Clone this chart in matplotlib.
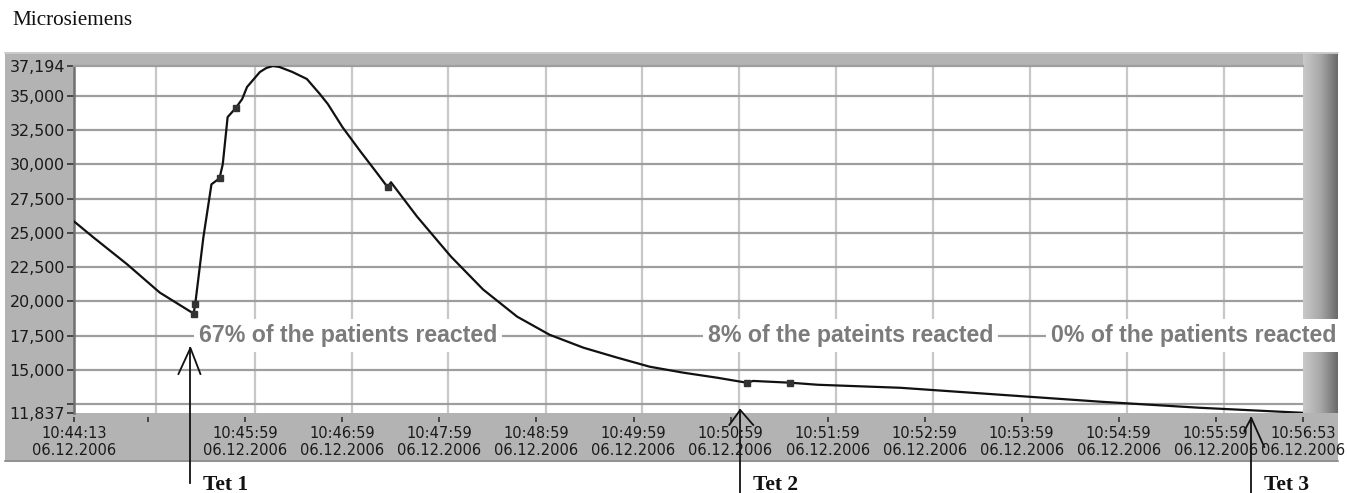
import matplotlib
matplotlib.use("Agg")
import matplotlib.pyplot as plt
import matplotlib.dates as mdates
import numpy as np
import pandas as pd
from matplotlib.patches import Rectangle
from matplotlib.lines import Line2D
from matplotlib.colors import LinearSegmentedColormap

DAY = "2006-12-06 "

# ---- data -------------------------------------------------------------
curve_times = ["10:44:13", "10:44:25", "10:44:46", "10:45:06", "10:45:27", "10:45:28",
               "10:45:33", "10:45:38", "10:45:43", "10:45:45", "10:45:48", "10:45:53",
               "10:45:57", "10:46:00", "10:46:08", "10:46:12", "10:46:16", "10:46:20",
               "10:46:28", "10:46:37", "10:46:45", "10:46:50",
               "10:46:59", "10:47:10", "10:47:20", "10:47:27", "10:47:29", "10:47:45",
               "10:48:06", "10:48:26", "10:48:47", "10:49:07", "10:49:28", "10:49:49",
               "10:50:09", "10:50:30", "10:50:51", "10:51:09", "10:51:13", "10:51:36",
               "10:51:53", "10:52:44", "10:53:46", "10:54:48", "10:55:49", "10:56:53"]
curve_values = [25840, 24670, 22690, 20640, 19100, 19830,
                24670, 28550, 28990, 30020, 33460, 34120,
                34780, 35660, 36760, 37050, 37194, 37125,
                36760, 36245, 35150, 34410,
                32730, 30970, 29430, 28330, 28700, 26210,
                23280, 20860, 18880, 17560, 16610, 15880,
                15220, 14780, 14410, 14050, 14180, 14050,
                13900, 13680, 13170, 12660, 12220, 11850]

marker_times = ["10:45:27", "10:45:28", "10:45:43", "10:45:53", "10:47:27", "10:51:09", "10:51:36"]
marker_values = [19100, 19830, 28990, 34120, 28330, 14050, 14050]

xtick_times = ["10:44:13", "10:45:59", "10:46:59", "10:47:59", "10:48:59", "10:49:59",
               "10:50:59", "10:51:59", "10:52:59", "10:53:59", "10:54:59", "10:55:59", "10:56:53"]
xtick_date = "06.12.2006"
xtick_unlabeled = ["10:44:59"]
xgrid_times = ["10:45:04", "10:46:05", "10:47:05", "10:48:04", "10:49:05", "10:50:04",
               "10:51:04", "10:52:04", "10:53:04", "10:54:04", "10:55:04", "10:56:04"]

ytick_values = [11837, 15000, 17500, 20000, 22500, 25000, 27500, 30000, 32500, 35000, 37194]
ytick_unlabeled = [12500]
ygrid_values = [12500, 15000, 17500, 20000, 22500, 25000, 27500, 30000, 32500, 35000]
y_min, y_max = 11837, 37194

notes = ["67% of the patients reacted", "8% of the pateints reacted", "0% of the patients reacted"]
note_times = ["10:45:30", "10:50:45", "10:54:17"]
note_level = 17500

tet_labels = ["Tet 1", "Tet 2", "Tet 3"]
tet_times = ["10:45:25", "10:51:05", "10:56:21"]

y_title = "Microsiemens"


def tnum(lst):
    return mdates.date2num(pd.to_datetime([DAY + s for s in lst]))


# ---- figure -----------------------------------------------------------
W, H = 1347, 493
fig = plt.figure(figsize=(W / 100, H / 100), dpi=100)
fig.patch.set_facecolor("white")


def fx(px):
    return px / W


def fy(py):
    return 1 - py / H


# gray frame
fig.add_artist(Rectangle((fx(5), fy(462)), fx(1338) - fx(5), fy(52) - fy(462),
                         transform=fig.transFigure, facecolor="#b3b3b3",
                         edgecolor="none", zorder=0))
fig.add_artist(Line2D([fx(5), fx(1338)], [fy(461), fy(461)], transform=fig.transFigure,
                      color="#8c8c8c", lw=1.2, zorder=0.5))
fig.add_artist(Line2D([fx(5), fx(1338)], [fy(53), fy(53)], transform=fig.transFigure,
                      color="#cfcfcf", lw=1.2, zorder=0.5))

# right gradient bar
gax = fig.add_axes([fx(1303), fy(413), fx(1338) - fx(1303), fy(53) - fy(413)])
grad = np.linspace(0, 1, 64)[None, :]
cmap = LinearSegmentedColormap.from_list("g", ["#c9c9c9", "#a8a8a8", "#6a6a6a"])
gax.imshow(grad, aspect="auto", cmap=cmap, extent=[0, 1, 0, 1])
gax.set_axis_off()
gax.set_zorder(0)

# main axes
ax = fig.add_axes([fx(74), fy(413), fx(1303) - fx(74), fy(66) - fy(413)])
ax.set_zorder(2)
ax.set_facecolor("white")

x_curve = tnum(curve_times)
x0, x1 = x_curve[0], x_curve[-1]
ax.set_xlim(x0, x1)
ax.set_ylim(y_min, y_max)

for yv in ygrid_values:
    ax.axhline(yv, color="#9e9e9e", lw=1.6, zorder=0.5)
for xv in tnum(xgrid_times):
    ax.axvline(xv, color="#c8c8c8", lw=1.6, zorder=0.4)

ax.plot(x_curve, curve_values, color="#111111", lw=1.6, zorder=3,
        solid_joinstyle="round")
ax.plot(tnum(marker_times), marker_values, "s", ms=4.2, color="#333333", zorder=4)

# spines
for s in ("right", "bottom"):
    ax.spines[s].set_visible(False)
ax.spines["left"].set_color("#707070")
ax.spines["left"].set_linewidth(1.8)
ax.spines["top"].set_color("#9e9e9e")
ax.spines["top"].set_linewidth(1.6)
ax.spines["bottom"].set_position(("outward", 3))

# y ticks
yt = ytick_values + ytick_unlabeled
ylabels = [f"{v:,}" for v in ytick_values] + ["" for _ in ytick_unlabeled]
ax.set_yticks(yt)
ax.set_yticklabels(ylabels)
ax.tick_params(axis="y", direction="out", length=5, width=1.2, color="#333333",
               labelsize=11.4, labelcolor="#1a1a1a", pad=1.5)

# x ticks
xt = list(tnum(xtick_times)) + list(tnum(xtick_unlabeled))
xlabels = [f"{t}\n{xtick_date}" for t in xtick_times] + ["" for _ in xtick_unlabeled]
ax.set_xticks(xt)
ax.set_xticklabels(xlabels, linespacing=1.15)
ax.tick_params(axis="x", direction="out", length=3.6, width=1.2, color="#333333",
               labelsize=10.5, labelcolor="#1a1a1a", pad=3)
for lab in ax.get_xticklabels() + ax.get_yticklabels():
    lab.set_family("DejaVu Sans")

# notes on the 17,500 line
for s, t in zip(notes, tnum(note_times)):
    ax.text(t, note_level, s, fontsize=16.7, fontweight="bold", color="#7b7b7b",
            family="Liberation Sans", ha="left", va="center", zorder=5, clip_on=False,
            bbox=dict(boxstyle="square,pad=0.2", fc="white", ec="none"))

# Tet arrows (figure pixel layout)
tip_y = [348, 410, 418]
arm_left = [(-12, 26), (-11, 15), (-7, 13)]
arm_right = [(10, 26), (13, 15), (13, 29)]
shaft_end = [483, 493, 493]
for lab, t, ty, al, ar, se in zip(tet_labels, tnum(tet_times), tip_y, arm_left, arm_right, shaft_end):
    xp = ax.transData.transform((t, y_min))[0]
    kw = dict(transform=fig.transFigure, color="#111111", lw=1.3, zorder=10)
    fig.add_artist(Line2D([fx(xp), fx(xp)], [fy(ty), fy(se)], **kw))
    fig.add_artist(Line2D([fx(xp + al[0]), fx(xp), fx(xp + ar[0])],
                          [fy(ty + al[1]), fy(ty), fy(ty + ar[1])], **kw))
    fig.text(fx(xp + 13), fy(490), lab, fontsize=15.5, fontweight="bold",
             family="Liberation Serif", color="#111111", ha="left", va="baseline", zorder=10)

fig.text(fx(12), fy(25), y_title, fontsize=15.3, family="Liberation Serif",
         color="#111111", ha="left", va="baseline")

fig.savefig("out.png", dpi=100)
